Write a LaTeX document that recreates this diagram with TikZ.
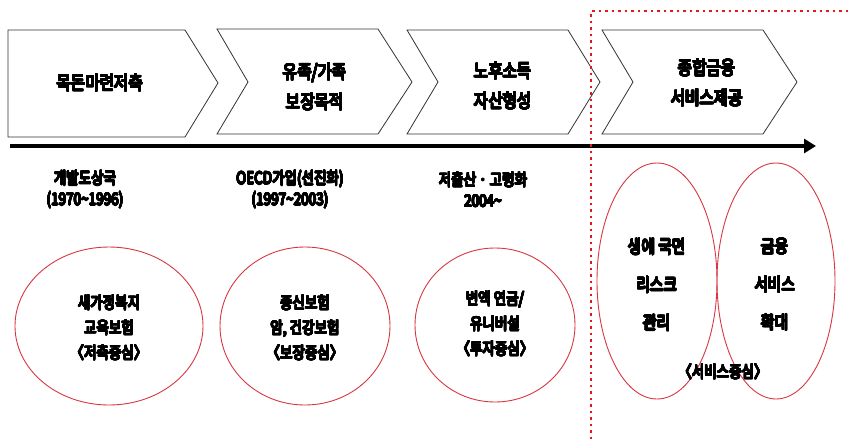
\documentclass[tikz,border=0pt]{standalone}
\usepackage{fontspec}
\usepackage{contour}
\contourlength{0.6pt}
\contournumber{24}
\newfontfamily\kr{Noto Sans CJK KR}[FakeStretch=0.82]
\newcommand\bk[1]{\contour{black}{#1}}
\usetikzlibrary{arrows.meta}
\definecolor{ellred}{RGB}{215,55,65}
\definecolor{dotred}{RGB}{230,20,30}
\begin{document}
\begin{tikzpicture}[x=1pt,y=-1pt,
  chev/.style={draw=black!80,line width=0.8pt,fill=white},
  ell/.style={draw=ellred,line width=0.9pt},
  head/.style={font=\kr\fontsize{19}{30}\selectfont,align=center,inner sep=0pt},
  sub/.style={font=\kr\fontsize{16.5}{21}\selectfont,align=center,inner sep=0pt},
  body/.style={font=\kr\fontsize{16.5}{25}\selectfont,align=center,inner sep=0pt},
  big/.style={font=\kr\fontsize{18}{38}\selectfont,align=center,inner sep=0pt}]
\useasboundingbox (0,0) rectangle (849,439);
% chevrons
\draw[chev] (8,30) -- (185,30) -- (218,83) -- (185,137) -- (8,137) -- cycle;
\draw[chev] (217,29) -- (378,29) -- (412,82) -- (378,134) -- (217,134) -- (248,82) -- cycle;
\draw[chev] (407,30) -- (568,30) -- (600,82) -- (568,134) -- (407,134) -- (438,82) -- cycle;
\draw[chev] (602,30) -- (763,30) -- (797,82) -- (763,134) -- (602,134) -- (633,82) -- cycle;
\node[head] (c1) at (100,83) {\bk{목돈마련저축}};
\node[head] (c2) at (315,87) {\bk{유족/가족}\\\bk{보장목적}};
\node[head] (c3) at (503,86) {\bk{노후소득}\\\bk{자산형성}};
\node[head] (c4) at (707,83) {\bk{종합금융}\\\bk{서비스제공}};
% timeline
\coordinate (ts) at (10,146);
\coordinate (te) at (816,146);
\draw[line width=3.5pt,-{Triangle[length=12pt,width=14pt]}] (ts) -- (te);
% periods
\node[sub] (p1) at (85,190) {\bk{개발도상국}\\\bk{(1970\textasciitilde1996)}};
\node[sub] (p2) at (290,190) {\bk{OECD가입(선진화)}\\\bk{(1997\textasciitilde2003)}};
\node[sub] (p3) at (483,190) {\bk{저출산 · 고령화}\\\bk{2004\textasciitilde}};
% ellipses
\draw[ell] (109,326) ellipse [x radius=94,y radius=79];
\draw[ell] (305,326) ellipse [x radius=85,y radius=79];
\draw[ell] (495,325) ellipse [x radius=80,y radius=77];
\draw[ell] (657,281) ellipse [x radius=60,y radius=118];
\draw[ell] (776,281) ellipse [x radius=59,y radius=118];
\node[body] (e1) at (109,328) {\bk{새가정복지}\\\bk{교육보험}\\\bk{〈저축중심〉}};
\node[body] (e2) at (305,328) {\bk{종신보험}\\\bk{암, 건강보험}\\\bk{〈보장중심〉}};
\node[body] (e3) at (495,324) {\bk{변액 연금/}\\\bk{유니버설}\\\bk{〈투자중심〉}};
\node[big] (e4) at (657,285) {\bk{생에 국면}\\\bk{리스크}\\\bk{관리}};
\node[big] (e5) at (775,285) {\bk{금융}\\\bk{서비스}\\\bk{확대}};
\node[body] (e6) at (723,372) {\bk{〈서비스중심〉}};
% dotted frame
\coordinate (fb) at (591,439);
\coordinate (ft) at (591,11);
\coordinate (fr) at (849,11);
\draw[dotred,line width=2.2pt,dash pattern=on 2.5pt off 4pt] (fb) -- (ft) -- (fr);
\end{tikzpicture}
\end{document}
